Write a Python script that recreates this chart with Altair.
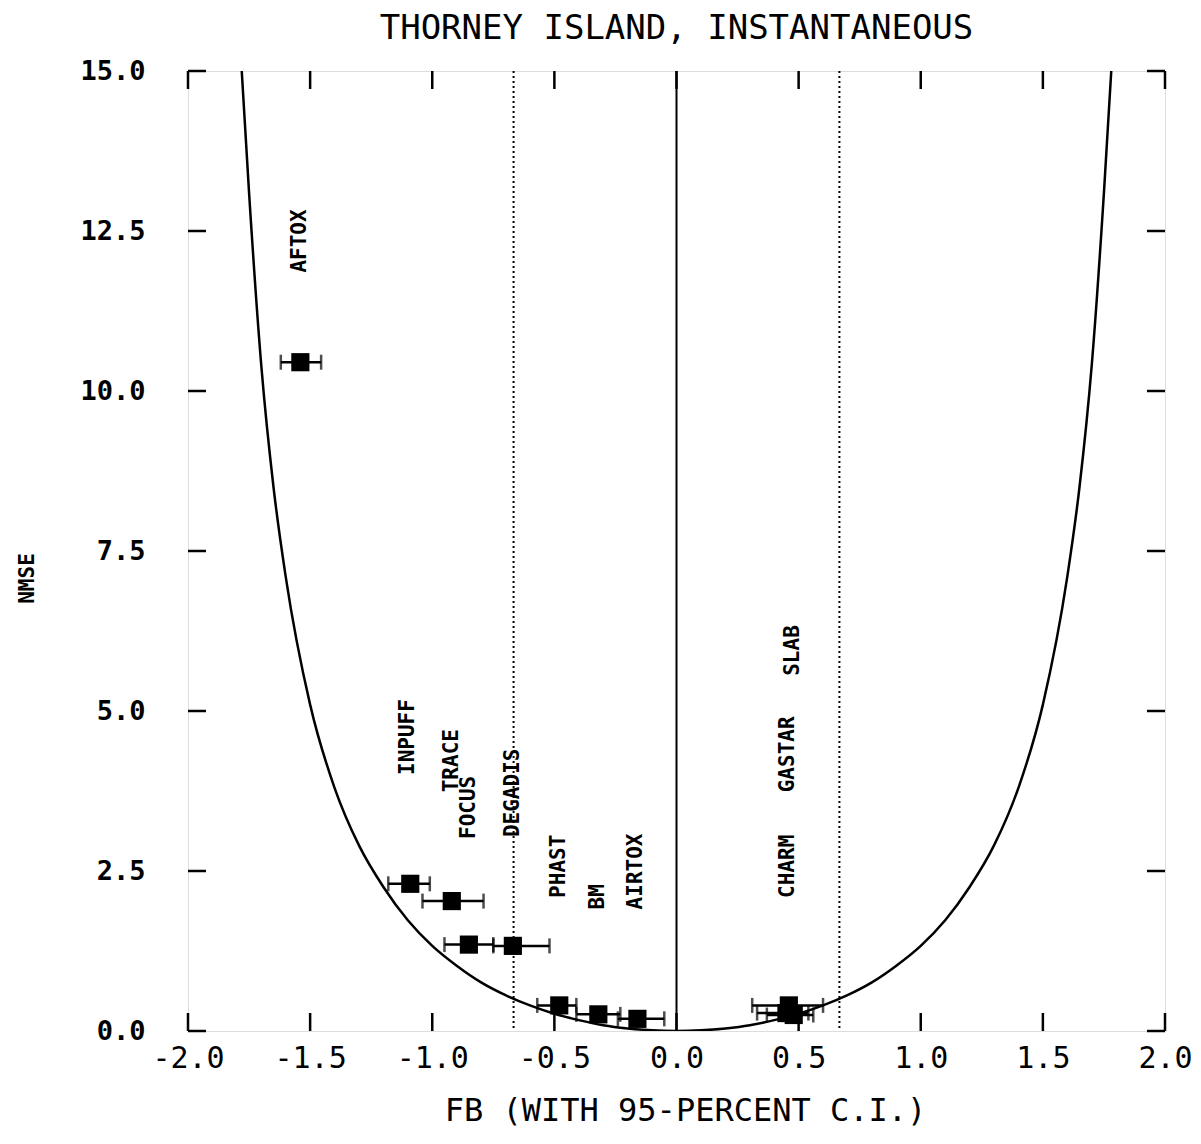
import altair as alt
import pandas as pd

# ---- data ----
models = ["AFTOX", "INPUFF", "TRACE", "FOCUS", "DEGADIS", "PHAST", "BM", "AIRTOX", "CHARM", "GASTAR", "SLAB"]
fb = [-1.54, -1.09, -0.92, -0.85, -0.67, -0.48, -0.32, -0.16, 0.45, 0.46, 0.48]
nmse = [10.45, 2.30, 2.03, 1.35, 1.33, 0.40, 0.26, 0.19, 0.28, 0.40, 0.25]
fb_lo = [-1.62, -1.18, -1.04, -0.95, -0.75, -0.57, -0.41, -0.24, 0.33, 0.31, 0.37]
fb_hi = [-1.455, -1.01, -0.79, -0.75, -0.52, -0.41, -0.23, -0.05, 0.54, 0.60, 0.56]
label_fb = [-1.54, -1.10, -0.92, -0.85, -0.67, -0.48, -0.32, -0.165, 0.455, 0.455, 0.475]
label_nmse = [11.85, 4.0, 3.73, 3.0, 3.03, 2.08, 1.9, 1.9, 2.08, 3.73, 5.55]

curve_fb = [-1.78, -1.75, -1.70, -1.65, -1.60, -1.50, -1.40, -1.30, -1.20, -1.10, -1.00,
            -0.90, -0.80, -0.70, -0.60, -0.50, -0.40, -0.30, -0.20, -0.10, 0.00,
            0.10, 0.20, 0.30, 0.40, 0.50, 0.60, 0.70, 0.80, 0.90, 1.00,
            1.10, 1.20, 1.30, 1.40, 1.50, 1.60, 1.65, 1.70, 1.75, 1.78]
curve_nmse = [15.0, 13.1, 10.4, 8.5, 7.1, 5.1, 3.8, 2.9, 2.25, 1.73, 1.33,
              1.02, 0.76, 0.56, 0.40, 0.27, 0.17, 0.09, 0.04, 0.01, 0.0,
              0.01, 0.04, 0.09, 0.17, 0.27, 0.40, 0.56, 0.76, 1.02, 1.33,
              1.73, 2.25, 2.9, 3.8, 5.1, 7.1, 8.5, 10.4, 13.1, 15.0]

factor2_lines = [-0.667, 0.667]
zero_line = [0.0]
x_ticks = [-2.0, -1.5, -1.0, -0.5, 0.0, 0.5, 1.0, 1.5, 2.0]
y_ticks = [0.0, 2.5, 5.0, 7.5, 10.0, 12.5, 15.0]

TITLE = "THORNEY ISLAND, INSTANTANEOUS"
X_TITLE = "FB (WITH 95-PERCENT C.I.)"
Y_TITLE = "NMSE"

W, H = 977, 960
MONO = "DejaVu Sans Mono"

pts = pd.DataFrame({"model": models, "fb": fb, "nmse": nmse, "lo": fb_lo, "hi": fb_hi,
                    "lfb": label_fb, "lnmse": label_nmse})
curve = pd.DataFrame({"fb": curve_fb, "nmse": curve_nmse})
f2 = pd.DataFrame({"fb": factor2_lines})
z = pd.DataFrame({"fb": zero_line})
xt = pd.DataFrame({"v": x_ticks})
yt = pd.DataFrame({"v": y_ticks})

xscale = alt.Scale(domain=[-2, 2], nice=False, zero=False)
yscale = alt.Scale(domain=[0, 15], nice=False, zero=False)

xaxis = alt.Axis(values=x_ticks, title=X_TITLE, tickSize=0, domain=False, grid=False,
                 labelFlush=False, labelOverlap=False,
                 labelExpr="(datum.value < 0 ? '-' : '') + format(abs(datum.value), '.1f')",
                 labelFont=MONO, labelFontSize=30, labelPadding=12, labelColor="black",
                 titleFont=MONO, titleFontSize=32, titleFontWeight="normal", titleColor="black",
                 titleBaseline="middle", titleY=79, titleX=497)
yaxis = alt.Axis(values=y_ticks, title=Y_TITLE, tickSize=0, domain=False, grid=False,
                 labelFlush=False, labelOverlap=False,
                 format=".1f", labelFont=MONO, labelFontSize=27, labelPadding=43,
                 labelColor="black", labelFontWeight="bold",
                 titleFont=MONO, titleFontSize=21, titleFontWeight="bold", titleColor="black",
                 titleBaseline="middle", titleX=-161, titleY=507, titleAngle=270)

base_curve = alt.Chart(curve).mark_line(color="black", strokeWidth=2.5, interpolate="monotone", clip=True).encode(
    x=alt.X("fb:Q", scale=xscale, axis=xaxis),
    y=alt.Y("nmse:Q", scale=yscale, axis=yaxis),
)

dotted = alt.Chart(f2).mark_rule(color="black", strokeWidth=2, strokeDash=[2, 3]).encode(
    x=alt.X("fb:Q", scale=xscale)
)
solid0 = alt.Chart(z).mark_rule(color="black", strokeWidth=2).encode(
    x=alt.X("fb:Q", scale=xscale)
)

bars = alt.Chart(pts).mark_rule(color="black", strokeWidth=2.5).encode(
    x=alt.X("lo:Q", scale=xscale), x2="hi:Q", y=alt.Y("nmse:Q", scale=yscale)
)
cap_lo = alt.Chart(pts).mark_tick(color="black", orient="vertical", size=15, thickness=2.5).encode(
    x=alt.X("lo:Q", scale=xscale), y=alt.Y("nmse:Q", scale=yscale)
)
cap_hi = alt.Chart(pts).mark_tick(color="black", orient="vertical", size=15, thickness=2.5).encode(
    x=alt.X("hi:Q", scale=xscale), y=alt.Y("nmse:Q", scale=yscale)
)
squares = alt.Chart(pts).mark_square(color="black", size=330, opacity=1).encode(
    x=alt.X("fb:Q", scale=xscale), y=alt.Y("nmse:Q", scale=yscale)
)
labels = alt.Chart(pts).mark_text(angle=270, align="left", baseline="middle", font=MONO,
                                  fontSize=21, fontWeight="bold", color="black").encode(
    x=alt.X("lfb:Q", scale=xscale), y=alt.Y("lnmse:Q", scale=yscale), text="model:N"
)

# inward ticks on all four sides
tk = 18
t_bottom = alt.Chart(xt).mark_rule(color="black", strokeWidth=2.5).encode(
    x=alt.X("v:Q", scale=xscale), y=alt.value(H), y2=alt.value(H - tk))
t_top = alt.Chart(xt).mark_rule(color="black", strokeWidth=2.5).encode(
    x=alt.X("v:Q", scale=xscale), y=alt.value(0), y2=alt.value(tk))
t_left = alt.Chart(yt).mark_rule(color="black", strokeWidth=2.5).encode(
    y=alt.Y("v:Q", scale=yscale), x=alt.value(0), x2=alt.value(tk))
t_right = alt.Chart(yt).mark_rule(color="black", strokeWidth=2.5).encode(
    y=alt.Y("v:Q", scale=yscale), x=alt.value(W), x2=alt.value(W - tk))

chart = alt.layer(
    base_curve, dotted, solid0, bars, cap_lo, cap_hi, squares, labels,
    t_bottom, t_top, t_left, t_right
).properties(
    width=W, height=H,
    title=alt.TitleParams(TITLE, font=MONO, fontSize=34, fontWeight="normal", color="black",
                          anchor="middle", offset=11),
    padding={"left": 188, "top": 71, "right": 36, "bottom": 113},
    autosize=alt.AutoSizeParams(type="none"),
).configure_view(
    stroke="black", strokeWidth=3
).configure(background="white")

chart.save("out.html", embed_options={"renderer": "svg", "actions": False})
